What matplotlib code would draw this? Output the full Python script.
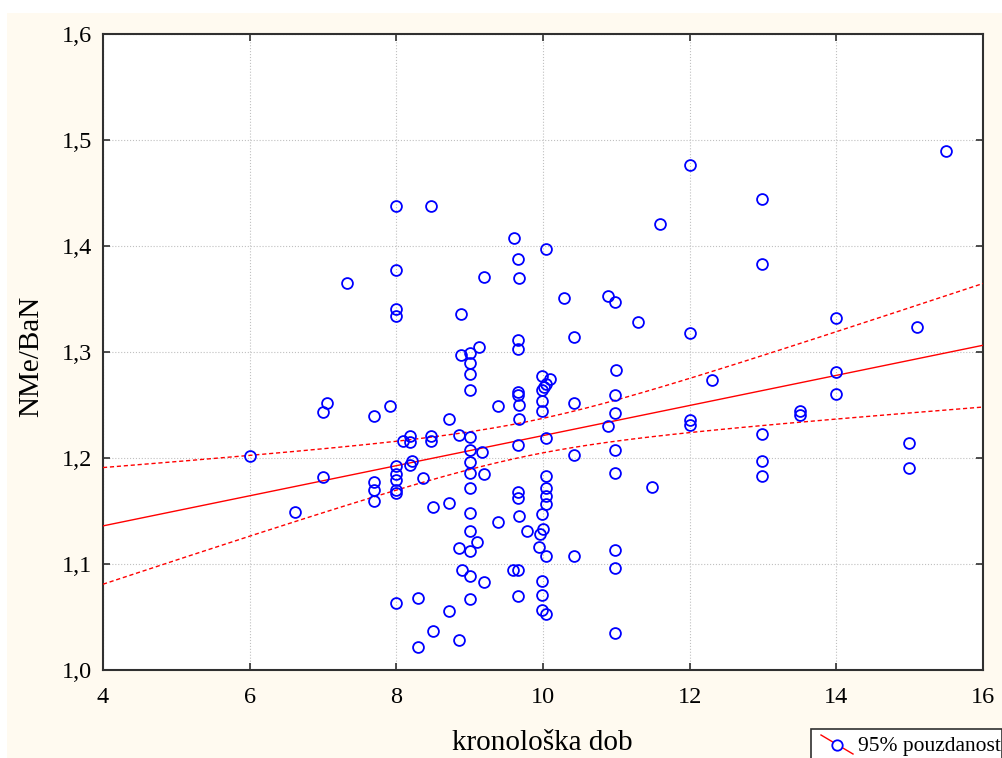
import numpy as np
import matplotlib
matplotlib.use("Agg")
import matplotlib.pyplot as plt
from matplotlib.lines import Line2D
from matplotlib.patches import Rectangle

plt.rcParams['font.family'] = ['Liberation Serif', 'DejaVu Serif']

# ---- data ----
age = [6.0, 6.62, 7.0, 7.05, 7.0, 7.33, 7.7, 7.7, 7.7, 7.7, 7.91,
       8.0, 8.0, 8.0, 8.0, 8.0, 8.0, 8.0, 8.0, 8.0, 8.0,
       8.09, 8.18, 8.19, 8.18, 8.21, 8.29, 8.29, 8.36, 8.47, 8.47, 8.47,
       8.5, 8.5, 8.72, 8.72, 8.72, 8.85, 8.85, 8.85, 8.88, 8.88, 8.9,
       9.0, 9.0, 9.0, 9.0, 9.0, 9.0, 9.0, 9.0, 9.0, 9.0, 9.0, 9.0, 9.0, 9.0,
       9.1, 9.13, 9.17, 9.19, 9.19, 9.19, 9.38, 9.38, 9.59, 9.6,
       9.66, 9.67, 9.66, 9.66, 9.66, 9.66, 9.67, 9.67, 9.66, 9.66, 9.66, 9.67,
       9.66, 9.66, 9.78,
       10.04, 9.99, 10.09, 10.04, 10.02, 9.99, 9.99, 9.99, 10.04, 10.04,
       10.04, 10.04, 10.04, 9.99, 10.0, 9.96, 9.95, 10.04, 9.99, 9.99,
       9.99, 10.04, 10.29, 10.42, 10.42, 10.42, 10.42,
       10.89, 10.98, 10.99, 10.98, 10.98, 10.89, 10.98, 10.98, 10.98, 10.98,
       10.98, 11.29, 11.49, 11.59, 12.0, 12.0, 12.0, 12.0, 12.3,
       12.99, 12.99, 12.99, 12.99, 12.99, 13.5, 13.5, 14.0, 14.0, 14.0,
       14.99, 14.99, 15.1, 15.49]
ratio = [1.202, 1.149, 1.243, 1.252, 1.182, 1.365, 1.24, 1.177, 1.17, 1.159, 1.249,
         1.438, 1.377, 1.341, 1.334, 1.192, 1.185, 1.179, 1.17, 1.167, 1.063,
         1.216, 1.221, 1.215, 1.193, 1.197, 1.068, 1.022, 1.181, 1.438, 1.221, 1.216,
         1.154, 1.037, 1.237, 1.158, 1.056, 1.222, 1.115, 1.028, 1.336, 1.297, 1.094,
         1.299, 1.29, 1.279, 1.264, 1.22, 1.208, 1.196, 1.186, 1.172, 1.148, 1.131,
         1.112, 1.089, 1.067,
         1.121, 1.305, 1.206, 1.371, 1.185, 1.083, 1.249, 1.14, 1.094, 1.408,
         1.388, 1.37, 1.311, 1.303, 1.262, 1.259, 1.25, 1.237, 1.212, 1.168, 1.162,
         1.145, 1.094, 1.07, 1.131,
         1.397, 1.277, 1.275, 1.27, 1.267, 1.264, 1.254, 1.244, 1.219, 1.183,
         1.172, 1.164, 1.157, 1.147, 1.133, 1.128, 1.116, 1.108, 1.084, 1.071,
         1.057, 1.053, 1.351, 1.314, 1.252, 1.203, 1.108,
         1.353, 1.347, 1.283, 1.259, 1.242, 1.23, 1.208, 1.186, 1.113, 1.096,
         1.035, 1.328, 1.173, 1.421, 1.476, 1.318, 1.236, 1.231, 1.274,
         1.444, 1.383, 1.223, 1.197, 1.183, 1.244, 1.241, 1.332, 1.281, 1.26,
         1.214, 1.191, 1.324, 1.49]

x_ticks = [4, 6, 8, 10, 12, 14, 16]
y_ticks = [1.0, 1.1, 1.2, 1.3, 1.4, 1.5, 1.6]
y_tick_labels = ['1,0', '1,1', '1,2', '1,3', '1,4', '1,5', '1,6']

W, H = 1003, 758
CREAM = '#fffaf0'

x = np.array(age)
y = np.array(ratio)

# linear fit + 95% confidence band for the mean
n = len(x)
b, a = np.polyfit(x, y, 1)
resid = y - (a + b * x)
s = np.sqrt(np.sum(resid ** 2) / (n - 2))
sxx = np.sum((x - x.mean()) ** 2)
t95 = 1.977  # t(0.975, ~140 df)
xs = np.linspace(4, 16, 200)
fit = a + b * xs
half = t95 * s * np.sqrt(1.0 / n + (xs - x.mean()) ** 2 / sxx)

fig = plt.figure(figsize=(W / 100, H / 100), dpi=100, facecolor='white')
fig.add_artist(Rectangle((7 / W, 0), 1, 1 - 13 / H, transform=fig.transFigure,
                         facecolor=CREAM, edgecolor='none', zorder=-10))

ax = fig.add_axes([103 / W, 1 - 670 / H, 880 / W, 636 / H])
ax.set_facecolor('white')

ax.plot(xs, fit, color='red', lw=1.0, zorder=3)
ax.plot(xs, fit + half, color='red', lw=1.0, ls=(0, (3, 2)), zorder=3)
ax.plot(xs, fit - half, color='red', lw=1.0, ls=(0, (3, 2)), zorder=3)
ax.plot(x, y, 'o', mfc='none', mec='blue', ms=7.8, mew=1.3, zorder=4)

ax.set_xlim(4, 16)
ax.set_ylim(1.0, 1.6)
ax.set_xticks(x_ticks)
ax.set_yticks(y_ticks)
ax.set_yticklabels(y_tick_labels)
ax.tick_params(direction='in', length=5, width=1.2, labelsize=17.5,
               top=True, right=True, colors='#303030', labelcolor='black')
ax.tick_params(axis='y', pad=8)
ax.tick_params(axis='x', pad=12)
ax.grid(True, color='#c0c0c0', lw=0.8, ls=':')
ax.set_axisbelow(True)
for sp in ax.spines.values():
    sp.set_color('#303030')
    sp.set_linewidth(1.5)

fig.text(542 / W, 1 - 743 / H, 'kronološka dob', fontsize=21,
         ha='center', va='center')
fig.text(31 / W, 1 - 356 / H, 'NMe/BaN', fontsize=21, rotation=90,
         ha='center', va='center')

# legend box at the bottom right (partly cut off like the original)
fig.add_artist(Rectangle((811 / W, -0.01), 191 / W, 0.01 + 1 - 729 / H,
                         transform=fig.transFigure, facecolor='white',
                         edgecolor='#303030', lw=1.2))
fig.add_artist(Line2D([821 / W, 853 / W], [1 - 735 / H, 1 - 754 / H],
                      transform=fig.transFigure, color='red', lw=1.0))
fig.add_artist(Line2D([837 / W], [1 - 745 / H], transform=fig.transFigure,
                      marker='o', mfc='white', mec='blue', ms=7.5, mew=1.3))
fig.text(858 / W, 1 - 751.5 / H, '95% pouzdanost', fontsize=15.5,
         ha='left', va='baseline')

fig.savefig('out.png', dpi=100, facecolor=fig.get_facecolor())
